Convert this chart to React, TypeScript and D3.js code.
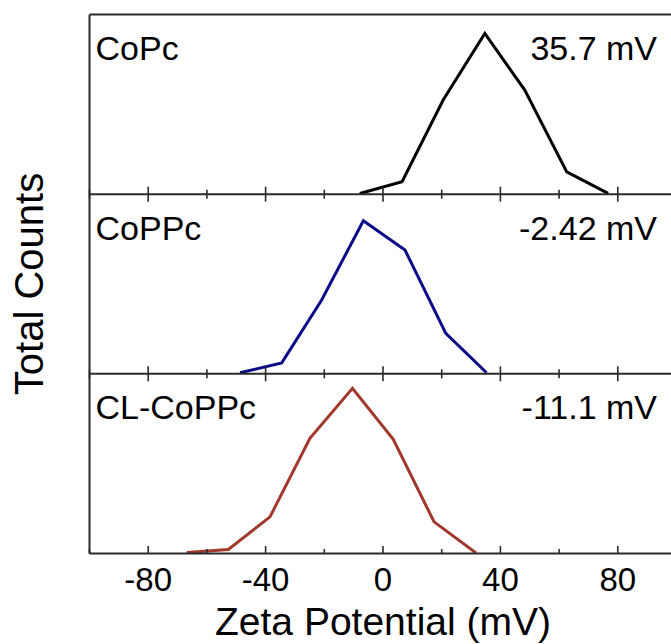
import React from "react";
import * as d3 from "d3";

// Zeta potential bins (mV) and counts (arbitrary units, 0–100 per panel)
const copcZeta = [-7.9, 6.5, 20.5, 34.7, 48.3, 62.6, 76.7];
const copcCounts = [0.4, 6.9, 52.4, 89.5, 57.9, 12.4, 0.4];

const coppcZeta = [-48.7, -34.5, -20.9, -6.7, 7.5, 21.4, 35.3];
const coppcCounts = [0.6, 6.1, 41.1, 85.2, 68.9, 22.5, 0.6];

const clCoppcZeta = [-66.9, -52.7, -38.5, -24.9, -10.4, 3.5, 17.4, 31.7];
const clCoppcCounts = [0.6, 2.2, 20.4, 64.1, 91.9, 63.5, 17.6, 0.3];

const sampleNames = ["CoPc", "CoPPc", "CL-CoPPc"];
const meanLabels = ["35.7 mV", "-2.42 mV", "-11.1 mV"];
const lineColors = ["#000000", "#0a0a88", "#a2372c"];

const majorTicks = [-80, -40, 0, 40, 80];
const minorTicks = [-100, -60, -20, 20, 60, 100];

const W = 671;
const H = 644;
const left = 89.5;
const right = 676.5;
const top = 14.5;
const bottom = 553.5;
const nPanels = 3;
const panelH = (bottom - top) / nPanels;
const FONT = "'Liberation Sans', Arial, Helvetica, sans-serif";
const frameColor = "#2a2a2a";

export default function App() {
  const x = d3.scaleLinear().domain([-100, 100]).range([left, right]);
  const series = [
    { zeta: copcZeta, counts: copcCounts },
    { zeta: coppcZeta, counts: coppcCounts },
    { zeta: clCoppcZeta, counts: clCoppcCounts },
  ];

  return (
    <div style={{ position: "absolute", left: 0, top: 0, width: W, height: H, overflow: "hidden", background: "#fff" }}>
      <svg width={W} height={H} style={{ display: "block" }} fontFamily={FONT}>
        <defs>
          <clipPath id="plot-clip">
            <rect x={left} y={top} width={right - left} height={bottom - top} />
          </clipPath>
        </defs>
        {series.map((s, i) => {
          const y0 = top + i * panelH;
          const y1 = y0 + panelH;
          const y = d3.scaleLinear().domain([0, 100]).range([y1, y0]);
          const line = d3
            .line<number>()
            .x((_, j) => x(s.zeta[j]))
            .y((c) => y(c));
          const allTicks = [
            ...majorTicks.map((v) => ({ v, len: 7.5 })),
            ...minorTicks.map((v) => ({ v, len: 4.5 })),
          ];
          return (
            <g key={i}>
              <path
                d={line(s.counts) || ""}
                fill="none"
                stroke={lineColors[i]}
                strokeWidth={3}
                strokeLinejoin="miter"
                clipPath="url(#plot-clip)"
              />
              {/* bottom ticks pointing into the panel */}
              {allTicks.map((t) => (
                <line
                  key={"b" + t.v}
                  x1={x(t.v)}
                  x2={x(t.v)}
                  y1={y1}
                  y2={y1 - t.len}
                  stroke={frameColor}
                  strokeWidth={1.6}
                />
              ))}
              {/* top ticks for lower panels */}
              {i > 0 &&
                allTicks.map((t) => (
                  <line
                    key={"t" + t.v}
                    x1={x(t.v)}
                    x2={x(t.v)}
                    y1={y0}
                    y2={y0 + t.len}
                    stroke={frameColor}
                    strokeWidth={1.6}
                  />
                ))}
              <line x1={left} x2={right} y1={y1} y2={y1} stroke={frameColor} strokeWidth={2} />
              <text x={left + 6} y={y0 + 45.5} fontSize={34} fill="#000">
                {sampleNames[i]}
              </text>
              <text x={657} y={y0 + 45.5} fontSize={34} fill="#000" textAnchor="end">
                {meanLabels[i]}
              </text>
            </g>
          );
        })}
        {/* frame */}
        <line x1={left} x2={right} y1={top} y2={top} stroke={frameColor} strokeWidth={2} />
        <line x1={left} x2={left} y1={top} y2={bottom} stroke={frameColor} strokeWidth={2} />
        <line x1={right} x2={right} y1={top} y2={bottom} stroke={frameColor} strokeWidth={2} />
        {/* x tick labels */}
        {majorTicks.map((v) => (
          <text key={v} x={x(v)} y={591} fontSize={33} textAnchor="middle" fill="#000">
            {v}
          </text>
        ))}
        <text x={x(0)} y={635} fontSize={39} textAnchor="middle" fill="#000">
          Zeta Potential (mV)
        </text>
        <text
          transform={`translate(43,${(top + bottom) / 2}) rotate(-90)`}
          fontSize={40}
          textAnchor="middle"
          fill="#000"
        >
          Total Counts
        </text>
      </svg>
    </div>
  );
}
